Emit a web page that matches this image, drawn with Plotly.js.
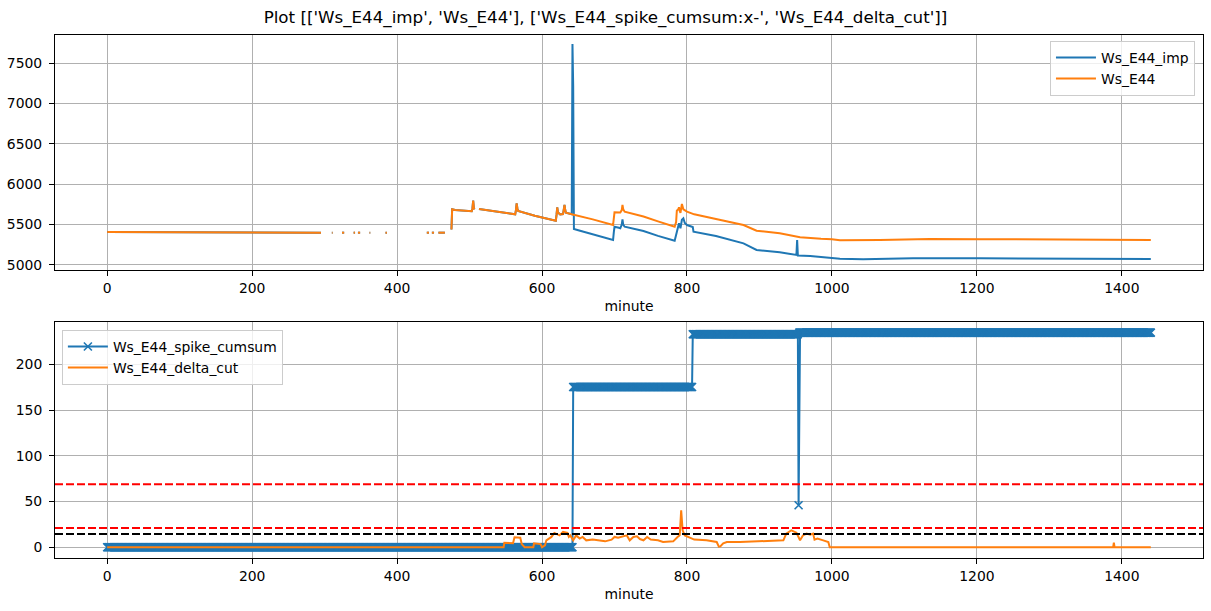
<!DOCTYPE html>
<html>
<head>
<meta charset="utf-8">
<script src="https://cdn.plot.ly/plotly-3.0.1.min.js"></script>
<style>
  html, body { margin: 0; padding: 0; background: #ffffff; }
  #chart { width: 1211px; height: 611px; }
</style>
</head>
<body>
<div id="chart"></div>
<script>
// ---------------- DATA ----------------
const chartTitle = "Plot [['Ws_E44_imp', 'Ws_E44'], ['Ws_E44_spike_cumsum:x-', 'Ws_E44_delta_cut']]";
const xAxisLabel = "minute";

// Ws_E44 (orange, top) - null marks missing data
const wsMinute = [0,150,295,296,310,311,312,324,327,328,340,342,343,346,349,350,362,363,364,384,386,387,
  441,444,445,448,451,452,457,466,467,
  475,476,480,490,503,504,505,506,507,508,
  513,540,563,564,565,566,567,590,619,620,621,622,625,629,630,631,632,633,641,645,670,698,
  699,700,708,710,711,712,714,740,760,783,785,786,788,789,790,791,793,795,800,810,840,878,896,928,956,970,985,1000,1011,1066,1135,1204,1300,1440];
const wsValue = [5408,5404,5398,null,5400,5400,null,5400,5400,null,5400,5400,null,5400,5400,null,5400,5400,null,5400,5400,null,
  5400,5400,null,5400,5400,null,5400,5400,null,
  5440,5690,5680,5675,5665,5700,5796,5700,5690,null,
  5693,5660,5627,5680,5763,5700,5670,5610,5548,5620,5714,5650,5627,5630,5700,5743,5680,5647,5628,5620,5565,5495,
  5560,5652,5650,5680,5743,5690,5660,5600,5540,5474,5530,5672,5690,5714,5670,5645,5755,5690,5660,5627,5570,5495,5425,5392,5343,5330,5325,5320,5305,5309,5322,5320,5318,5310];

// Ws_E44_imp (blue, top): identical to Ws_E44 before minute 642, then these readings
const impSplitMinute = 642;
const impMinuteAfter = [642,643,644,650,670,698,699,700,706,708,710,711,712,714,740,760,783,785,786,789,791,793,795,797,800,805,808,809,840,878,896,928,951,952,953,970,990,1000,1011,1043,1112,1204,1300,1440];
const impValueAfter = [7735,7210,5445,5430,5380,5309,5400,5474,5460,5454,5500,5565,5500,5474,5420,5360,5301,5380,5433,5516,5454,5560,5578,5520,5495,5485,5470,5413,5360,5268,5186,5157,5124,5309,5118,5111,5095,5085,5078,5070,5082,5082,5080,5074];

// Ws_E44_spike_cumsum (blue, bottom): one value per minute, stored as runs
const cumsumLevels = [0, 175.2, 232.8, 45.9, 234.6];
const cumsumRunLengths = [643, 165, 146, 1, 486];

// Ws_E44_delta_cut (orange, bottom)
const deltaMinute = [0,547,548,560,562,570,572,576,588,589,598,600,604,606,613,617,624,629,635,637,639,643,647,652,656,661,670,680,687,696,700,705,717,721,726,731,735,740,745,750,760,767,781,787,790,792,793,794,797,802,810,827,841,844,846,850,855,873,896,919,933,937,944,951,956,960,965,970,974,976,980,988,995,997,1388,1389,1390,1440];
const deltaValue = [0,0,5,4.5,11,10.5,3.5,0,0,4.4,3.5,0,2,7.6,11.3,15.7,13,16.8,15.7,11.3,13,7.6,13,9.5,11.3,7.6,8.4,7.6,6.5,8.4,11.3,10.5,13,7.6,11.3,12,9,7.7,11.3,8.4,7.6,5.8,6.5,11.3,13.1,40.4,33,18.6,13,11.3,8.4,7.6,5.8,0.7,1,4.4,5.8,5.8,6.5,7.6,7.6,15,18.6,16,7.7,13,15,13.8,15,8.4,9.5,7.6,5.8,0,0,5,0,0];

// Horizontal threshold lines (bottom panel)
const thresholdValues = [69, 21, 14.5];
const thresholdColors = ["#ff0000", "#ff0000", "#000000"];

// ---------------- BUILD ----------------
const impMinute = [], impValue = [];
for (let i = 0; i < wsMinute.length; i++) {
  if (wsMinute[i] < impSplitMinute) { impMinute.push(wsMinute[i]); impValue.push(wsValue[i]); }
}
impMinute.push(...impMinuteAfter); impValue.push(...impValueAfter);

const cumMinute = [], cumValue = [];
let m = 0;
cumsumLevels.forEach((lvl, k) => {
  for (let j = 0; j < cumsumRunLengths[k]; j++) { cumMinute.push(m); cumValue.push(lvl); m++; }
});

const BLUE = "#1f77b4", ORANGE = "#ff7f0e";
const FONT = "DejaVu Sans, Liberation Sans, sans-serif";
const FS = 13.9;

const traces = [
  { x: impMinute, y: impValue, name: "Ws_E44_imp", type: "scatter", mode: "lines",
    line: { color: BLUE, width: 2 }, xaxis: "x", yaxis: "y", legend: "legend" },
  { x: wsMinute, y: wsValue, name: "Ws_E44", type: "scatter", mode: "lines",
    line: { color: ORANGE, width: 2 }, xaxis: "x", yaxis: "y", legend: "legend", connectgaps: false },
  { x: cumMinute, y: cumValue, name: "Ws_E44_spike_cumsum", type: "scatter", mode: "lines+markers",
    line: { color: BLUE, width: 2 },
    marker: { symbol: "x-thin", size: 8, color: BLUE, line: { color: BLUE, width: 1.6 } },
    xaxis: "x2", yaxis: "y2", legend: "legend2" },
  { x: deltaMinute, y: deltaValue, name: "Ws_E44_delta_cut", type: "scatter", mode: "lines",
    line: { color: ORANGE, width: 2 }, xaxis: "x2", yaxis: "y2", legend: "legend2" }
];

const axisCommon = {
  showline: true, mirror: true, linecolor: "#000000", linewidth: 1,
  ticks: "outside", ticklen: 5, tickwidth: 1, tickcolor: "#000000",
  showgrid: true, gridcolor: "#b0b0b0", gridwidth: 1, zeroline: false,
  tickfont: { family: FONT, size: FS, color: "#000000" }
};

const shapes = thresholdValues.map((v, i) => ({
  type: "line", xref: "x2 domain", yref: "y2", x0: 0, x1: 1, y0: v, y1: v,
  line: { color: thresholdColors[i], width: 2, dash: "8px,3px" }, layer: "above"
}));

const legendCommon = {
  bgcolor: "rgba(255,255,255,0.8)", bordercolor: "#cccccc", borderwidth: 1,
  font: { family: FONT, size: FS, color: "#000000" }, itemwidth: 40, tracegroupgap: 0
};

const layout = {
  width: 1211, height: 611,
  margin: { l: 55, r: 8, t: 35, b: 53 },
  paper_bgcolor: "#ffffff", plot_bgcolor: "#ffffff",
  font: { family: FONT, size: FS, color: "#000000" },
  showlegend: true,
  title: { text: chartTitle, x: 0.5, xref: "container", xanchor: "center",
           y: 1 - 17 / 611, yref: "container", yanchor: "middle",
           font: { family: FONT, size: 16.7, color: "#000000" } },
  xaxis: Object.assign({}, axisCommon, { anchor: "y", range: [-72, 1512], dtick: 200, tick0: 0,
           title: { text: xAxisLabel, standoff: 6, font: { family: FONT, size: FS } } }),
  yaxis: Object.assign({}, axisCommon, { anchor: "x", domain: [0.5507, 1], range: [4938, 7848], dtick: 500, tick0: 5000, ticklabelstandoff: 4 }),
  xaxis2: Object.assign({}, axisCommon, { anchor: "y2", range: [-72, 1512], dtick: 200, tick0: 0,
           title: { text: xAxisLabel, standoff: 6, font: { family: FONT, size: FS } } }),
  yaxis2: Object.assign({}, axisCommon, { anchor: "x2", domain: [0, 0.4512], range: [-11.7, 246.2], dtick: 50, tick0: 0, ticklabelstandoff: 4 }),
  legend: Object.assign({}, legendCommon, { x: 0.993, xanchor: "right", y: 0.9885, yanchor: "top" }),
  legend2: Object.assign({}, legendCommon, { x: 0.006, xanchor: "left", y: 0.436, yanchor: "top" }),
  shapes: shapes
};

Plotly.newPlot("chart", traces, layout, { staticPlot: true, displayModeBar: false });
</script>
</body>
</html>
